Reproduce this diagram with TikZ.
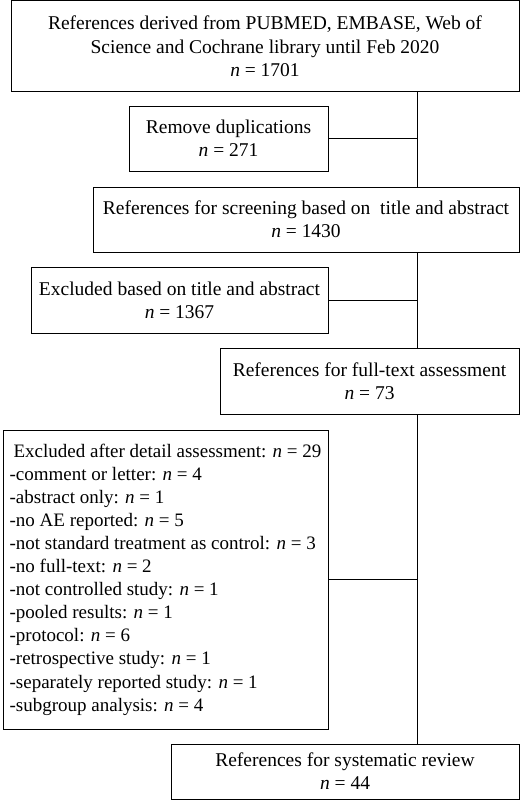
\documentclass[tikz,border=0pt]{standalone}
\usepackage{fontspec}
\setmainfont{Liberation Serif}

\begin{document}
\begin{tikzpicture}[-,x=1pt,y=-1pt,line width=0.8pt,
    main box/.style={draw,rectangle,align=center,inner sep=0pt,font=\fontsize{19.5}{23}\selectfont},
    list box/.style={draw,rectangle,align=left,inner sep=0pt,font=\fontsize{19}{23.1}\selectfont}]

            \useasboundingbox (0,0) rectangle (520,801);

            \node[main box, minimum width=508pt, minimum height=90.5pt] (1) at (265,45.75)
                {References derived from PUBMED, EMBASE, Web of\\[1pt] Science and Cochrane library until Feb 2020\\ \textit{n} = 1701};
            \node[main box, minimum width=199pt, minimum height=65pt] (2) at (228.5,138.5)
                {Remove duplications\\ \textit{n} = 271};
            \node[main box, minimum width=426pt, minimum height=65pt] (3) at (306,219.5)
                {References for screening based on~ title and abstract\\ \textit{n} = 1430};
            \node[main box, minimum width=297pt, minimum height=66pt] (4) at (179.5,300)
                {Excluded based on title and abstract\\ \textit{n} = 1367};
            \node[main box, minimum width=299pt, minimum height=66pt] (5) at (369.5,381)
                {References for full-text assessment\\ \textit{n} = 73};
            \node[list box, minimum width=325pt, minimum height=299pt] (6) at (165.5,579.5)
                {\hspace*{4pt}Excluded after detail assessment: \textit{n} = 29\\
                 -comment or letter: \textit{n} = 4\\
                 -abstract only: \textit{n} = 1\\
                 -no AE reported: \textit{n} = 5\\
                 -not standard treatment as control: \textit{n} = 3\\
                 -no full-text: \textit{n} = 2\\
                 -not controlled study: \textit{n} = 1\\
                 -pooled results: \textit{n} = 1\\
                 -protocol: \textit{n} = 6\\
                 -retrospective study: \textit{n} = 1\\
                 -separately reported study: \textit{n} = 1\\
                 -subgroup analysis: \textit{n} = 4};
            \node[main box, minimum width=348pt, minimum height=55pt] (7) at (345,771.5)
                {References for systematic review\\ \textit{n} = 44};

            \coordinate (spine) at (417,0);

            \draw[-] (spine |- 1.south) to (spine |- 3.north);
            \draw[-] (spine |- 3.south) to (spine |- 5.north);
            \draw[-] (spine |- 5.south) to (spine |- 7.north);
            \draw[-] (2.east) to (2.east -| spine);
            \draw[-] (4.east) to (4.east -| spine);
            \draw[-] (6.east) to (6.east -| spine);

            ;
        \end{tikzpicture}
\end{document}
